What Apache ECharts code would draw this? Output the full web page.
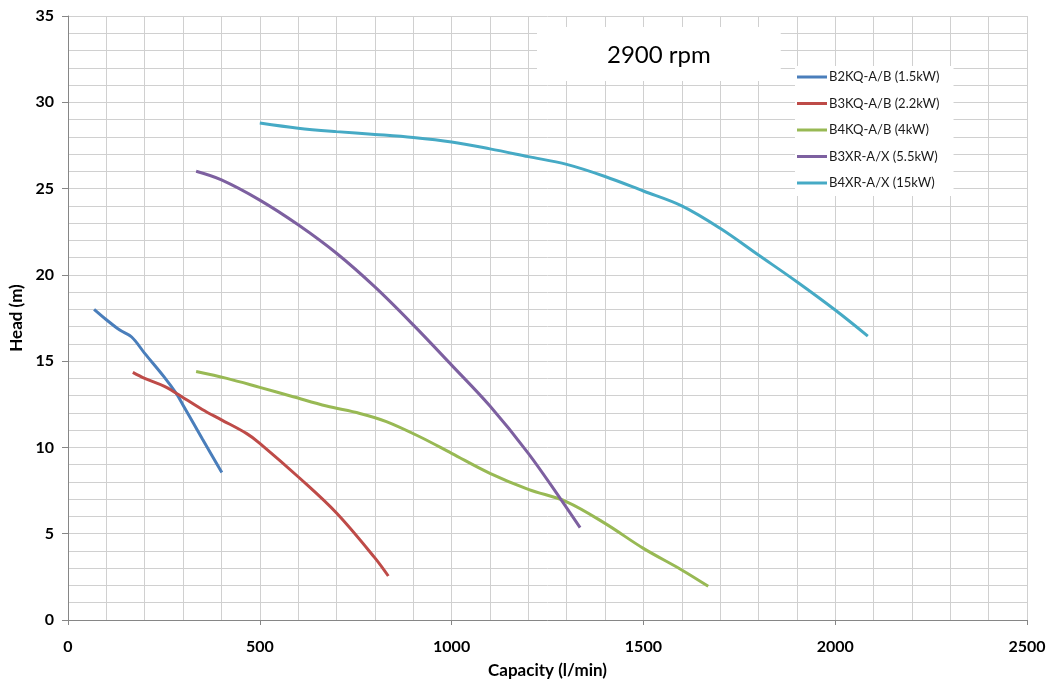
<!DOCTYPE html>
<html>
<head>
<meta charset="utf-8">
<script src="https://cdn.jsdelivr.net/npm/echarts@6/dist/echarts.min.js"></script>
<style>
html,body{margin:0;padding:0;background:#fff;}
#chart{width:1053px;height:681px;}
</style>
</head>
<body>
<div id="chart"></div>
<script>
const seriesNames = ['B2KQ-A/B (1.5kW)', 'B3KQ-A/B (2.2kW)', 'B4KQ-A/B (4kW)', 'B3XR-A/X (5.5kW)', 'B4XR-A/X (15kW)'];
const seriesColors = ['#4A7EBB', '#BE4B48', '#98B954', '#7D60A0', '#46AAC5'];

const b2kq = [[68,18.0],[100,17.4],[135,16.8],[166,16.4],[200,15.45],[250,14.1],[283,13.1],[300,12.45],[327,11.4],[350,10.5],[401,8.55]];
const b3kq = [[169,14.35],[200,14.0],[250,13.55],[283,13.13],[350,12.2],[400,11.6],[466,10.8],[500,10.24],[605,8.2],[700,6.2],[800,3.6],[835,2.55]];
const b4kq = [[334,14.4],[414,14.0],[500,13.48],[587,12.94],[674,12.4],[761,11.97],[830,11.5],[917,10.62],[1000,9.66],[1100,8.5],[1200,7.57],[1300,6.85],[1400,5.6],[1500,4.15],[1600,2.9],[1669,1.95]];
const b3xr = [[334,26.0],[400,25.5],[500,24.33],[600,22.9],[700,21.25],[800,19.3],[900,17.1],[1000,14.77],[1100,12.4],[1200,9.66],[1283,7.05],[1335,5.35]];
const b4xr = [[500,28.8],[600,28.5],[700,28.3],[800,28.14],[900,27.96],[1000,27.7],[1100,27.3],[1200,26.85],[1300,26.4],[1400,25.7],[1500,24.86],[1600,24.0],[1700,22.7],[1800,21.15],[1900,19.6],[2000,17.96],[2085,16.45]];

const xTicks = {min: 0, max: 2500, interval: 500};
const yTicks = {min: 0, max: 35, interval: 5};
const allData = [b2kq, b3kq, b4kq, b3xr, b4xr];

const chart = echarts.init(document.getElementById('chart'));
const fontFam = 'Lato, "Open Sans", sans-serif';
chart.setOption({
  animation: false,
  backgroundColor: '#fff',
  title: {
    text: '2900 rpm',
    left: 537, top: 27,
    backgroundColor: '#fff',
    padding: [16, 70, 14, 70],
    textStyle: {fontFamily: fontFam, fontSize: 24, fontWeight: 'normal', color: '#000'}
  },
  legend: {
    orient: 'vertical',
    left: 795, top: 66,
    backgroundColor: '#fff',
    padding: [4, 14, 6, 2],
    itemGap: 12.5,
    itemWidth: 30, itemHeight: 3,
    icon: 'rect',
    textStyle: {fontFamily: fontFam, fontSize: 13, color: '#1a1a1a', lineHeight: 14, padding: [0,0,0,-3]},
    data: seriesNames
  },
  grid: {left: 68, right: 26, top: 16, bottom: 61, containLabel: false, outerBoundsMode: 'none', show: false},
  xAxis: {
    type: 'value', min: xTicks.min, max: xTicks.max, interval: xTicks.interval,
    name: 'Capacity (l/min)', nameLocation: 'middle', nameGap: 42,
    nameTextStyle: {fontFamily: fontFam, fontSize: 17, fontWeight: 'bold', color: '#000'},
    axisLine: {show: true, lineStyle: {color: '#868686', width: 1}},
    axisTick: {show: true, inside: false, length: 5, lineStyle: {color: '#868686'}},
    axisLabel: {fontFamily: fontFam, fontSize: 16, fontWeight: 'bold', color: '#000', margin: 19, formatter: v => String(v)},
    splitLine: {show: true, lineStyle: {color: '#d0d0d0', width: 1}},
    minorTick: {show: false, splitNumber: 5},
    minorSplitLine: {show: true, lineStyle: {color: '#d0d0d0', width: 1}}
  },
  yAxis: {
    type: 'value', min: yTicks.min, max: yTicks.max, interval: yTicks.interval,
    name: 'Head (m)', nameLocation: 'middle', nameGap: 42, nameRotate: 90,
    nameTextStyle: {fontFamily: fontFam, fontSize: 17, fontWeight: 'bold', color: '#000'},
    axisLine: {show: true, lineStyle: {color: '#868686', width: 1}},
    axisTick: {show: true, inside: false, length: 6, lineStyle: {color: '#868686'}},
    axisLabel: {fontFamily: fontFam, fontSize: 16, fontWeight: 'bold', color: '#000', margin: 14, formatter: v => String(v)},
    splitLine: {show: true, lineStyle: {color: '#d0d0d0', width: 1}},
    minorTick: {show: false, splitNumber: 5},
    minorSplitLine: {show: true, lineStyle: {color: '#d0d0d0', width: 1}}
  },
  series: seriesNames.map((n, i) => ({
    name: n,
    type: 'line',
    data: allData[i],
    smooth: 0.35,
    showSymbol: false,
    symbol: 'none',
    color: seriesColors[i],
    lineStyle: {width: 3, color: seriesColors[i]},
    z: 3
  }))
});
</script>
</body>
</html>
